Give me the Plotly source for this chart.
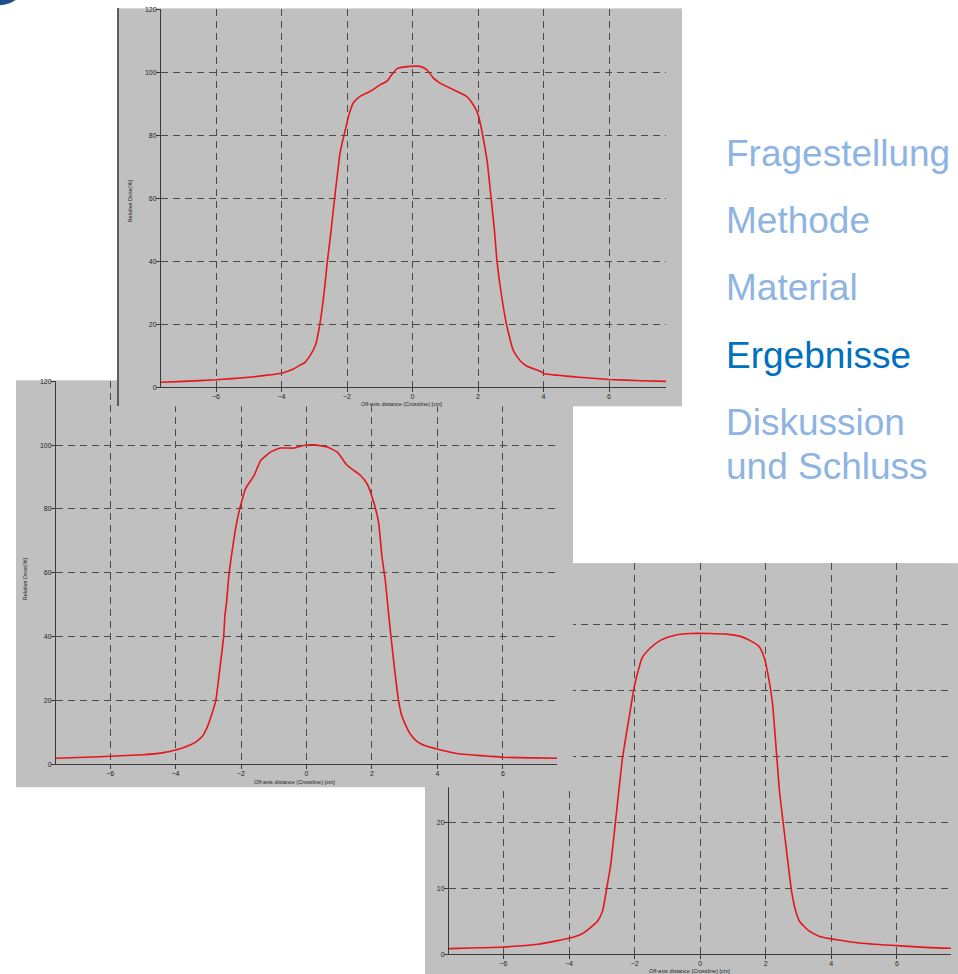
import plotly.graph_objects as go

W, H = 958, 974

# Crossline dose profiles: off-axis position [cm] and relative dose [%]
x_top = [-7.68, -7.0, -6.0, -5.0, -4.5, -4.0, -3.9, -3.62, -3.41, -3.31, -3.11, -2.96,
         -2.83, -2.7, -2.6, -2.5, -2.38, -2.3, -2.22, -2.14, -2.04, -1.94, -1.81,
         -1.6, -1.29, -0.98, -0.78, -0.63, -0.47, -0.08, 0.23, 0.43, 0.64, 0.84,
         1.25, 1.65, 1.85, 2.0, 2.12, 2.23, 2.28, 2.4, 2.5, 2.58, 2.72, 2.87, 3.09,
         3.3, 3.5, 3.9, 4.0, 5.0, 6.0, 7.0, 7.74]
d_top = [1.6, 1.9, 2.4, 3.2, 3.8, 4.5, 4.8, 5.9, 7.2, 7.7, 10.4, 13.5,
         20.0, 30.0, 40.0, 48.5, 60.0, 67.0, 73.9, 78.0, 82.3, 86.6, 90.3,
         92.4, 94.0, 96.1, 97.2, 99.3, 101.2, 101.9, 101.9, 100.9, 98.2, 96.6,
         94.5, 92.4, 89.8, 86.6, 81.3, 74.9, 71.8, 60.0, 50.0, 40.0, 29.0, 20.0, 11.4,
         8.3, 6.7, 5.1, 4.4, 3.3, 2.5, 2.1, 1.9]

x_mid = [-7.65, -7.0, -6.0, -5.0, -4.45, -3.94, -3.54, -3.35, -3.18, -3.05, -2.93,
         -2.77, -2.67, -2.53, -2.49, -2.44, -2.37, -2.26, -2.13, -2.01, -1.86, -1.6,
         -1.4, -1.1, -0.79, -0.59, -0.39, -0.08, 0.22, 0.63, 0.94, 1.24, 1.65,
         1.85, 2.05, 2.2, 2.3, 2.41, 2.51, 2.58, 2.71, 2.81, 2.9, 3.02, 3.18,
         3.37, 3.65, 3.98, 4.7, 5.5, 6.0, 7.0, 7.65]
d_mid = [1.9, 2.1, 2.5, 3.0, 3.5, 4.6, 6.1, 7.2, 8.75, 11.2, 14.5,
         20.0, 28.0, 40.0, 46.8, 50.9, 59.3, 67.6, 75.9, 81.2, 86.4, 90.5,
         95.2, 97.8, 99.1, 99.1, 99.1, 99.9, 100.1, 99.4, 97.8, 93.7, 90.5,
         87.9, 82.2, 75.9, 65.5, 57.2, 46.8, 40.0, 28.0, 20.0, 15.5, 12.4, 9.3,
         7.2, 5.7, 4.8, 3.2, 2.6, 2.2, 2.0, 1.9]

x_low = [-7.66, -7.0, -6.0, -4.95, -3.94, -3.6, -3.43, -3.13, -2.98, -2.85, -2.73,
         -2.58, -2.45, -2.37, -2.22, -2.12, -2.02, -1.92, -1.77, -1.52, -1.2, -0.8,
         -0.3, 0.3, 0.8, 1.2, 1.5, 1.8, 1.95, 2.05, 2.2, 2.3, 2.42, 2.6, 2.79,
         2.9, 3.03, 3.3, 3.64, 4.85, 6.0, 7.0, 7.65]
d_low = [0.85, 0.95, 1.1, 1.5, 2.5, 3.1, 3.7, 5.0, 6.5, 10.0, 13.5,
         20.2, 26.2, 29.7, 34.3, 37.3, 40.3, 42.4, 44.9, 46.4, 47.6, 48.3,
         48.6, 48.6, 48.5, 48.2, 47.6, 46.6, 45.0, 42.9, 38.3, 32.3, 24.7, 17.1, 9.5,
         6.8, 5.0, 3.6, 2.7, 1.7, 1.3, 1.0, 0.9]

x_ticks = [-6, -4, -2, 0, 2, 4, 6]
dose_ticks_wide = [0, 20, 40, 60, 80, 100, 120]
dose_ticks_narrow = [0, 10, 20, 30, 40, 50]

x_title = "Off-axis distance (Crossline) [cm]"
y_title = "Relative Dose[%]"

menu_items = ["Fragestellung", "Methode", "Material", "Ergebnisse",
              "Diskussion", "und Schluss"]
menu_active = "Ergebnisse"

RED = "#e5161c"
GREY = "#c0c0c0"
GRID = "#4a4a4a"
AXIS = "#3a3a3a"
TEXT = "#262626"
MENU_LIGHT = "#8eb4e3"
MENU_DARK = "#0070c0"
SMALL_FONT = "Liberation Sans"


def fx(p):
    return p / W


def fy(p):
    # page rows -> paper fraction, with the slight vertical offset/scale of the page
    return 1 - ((p - 2.6) / 0.993) / H


def clamp(v):
    return min(1.0, max(0.0, v))


def name(kind, n):
    return f"{kind}axis" if n == 1 else f"{kind}axis{n}"


def ref(kind, n):
    return kind if n == 1 else f"{kind}{n}"


fig = go.Figure()
layout = dict(
    width=W, height=H, autosize=False,
    margin=dict(l=0, r=0, t=0, b=0, pad=0),
    paper_bgcolor="white", plot_bgcolor=GREY,
    showlegend=False, hovermode=False,
)


def add_backdrop(n, left, right, top, bottom, border=False):
    """A grey sheet behind one chart window (an empty subplot)."""
    blank = dict(showgrid=False, zeroline=False, showticklabels=False,
                 ticks="", fixedrange=True, range=[0, 1])
    layout[name("x", n)] = dict(domain=[clamp(fx(left)), clamp(fx(right))],
                                anchor=ref("y", n), showline=False, **blank)
    layout[name("y", n)] = dict(domain=[clamp(fy(bottom)), clamp(fy(top))],
                                anchor=ref("x", n), showline=border,
                                linecolor="#5c5c5c", linewidth=2, **blank)
    fig.add_trace(go.Scatter(x=[None], y=[None], mode="lines",
                             xaxis=ref("x", n), yaxis=ref("y", n),
                             hoverinfo="skip", showlegend=False))


def add_profile(n, left, right, top, bottom, xr, yr, yticks, xs, ys):
    common = dict(
        showgrid=True, gridcolor=GRID, griddash="7px,5px", gridwidth=1,
        zeroline=False, showline=True, linecolor=AXIS, linewidth=1,
        ticks="outside", ticklen=4, tickcolor=AXIS, tickwidth=1,
        tickfont=dict(family=SMALL_FONT, size=7, color=TEXT),
        ticklabelstandoff=-2,
        fixedrange=True, tickmode="array",
    )
    layout[name("x", n)] = dict(domain=[fx(left), fx(right)], anchor=ref("y", n),
                                range=xr, tickvals=x_ticks, **common)
    layout[name("y", n)] = dict(domain=[fy(bottom), fy(top)], anchor=ref("x", n),
                                range=yr, tickvals=yticks, **common)
    fig.add_trace(go.Scatter(x=xs, y=ys, mode="lines",
                             xaxis=ref("x", n), yaxis=ref("y", n),
                             line=dict(color=RED, width=1.6, shape="spline",
                                       smoothing=0.5),
                             hoverinfo="skip", showlegend=False))


# Stacking order: lowest window first, each later one covers the earlier ones
add_backdrop(1, 430, 570, 385, 780)
add_backdrop(2, 425, 958, 562, 974)
add_profile(3, 449, 951, 562, 953, [-7.66, 7.65], [0, 59.24],
            dose_ticks_narrow, x_low, d_low)
add_backdrop(4, 16, 573, 379, 786)
add_profile(5, 56, 557, 380, 763, [-7.65, 7.65], [0, 120],
            dose_ticks_wide, x_mid, d_mid)
add_backdrop(6, 119, 682, 7, 405, border=True)
add_profile(7, 161, 666, 8, 386, [-7.68, 7.74], [0, 120],
            dose_ticks_wide, x_top, d_top)

annotations = []


def label(text, px, py, angle=0):
    annotations.append(dict(text=text, x=fx(px), y=fy(py), xref="paper",
                            yref="paper", showarrow=False, textangle=angle,
                            xanchor="center", yanchor="middle",
                            font=dict(family=SMALL_FONT, size=5.5, color=TEXT)))


label(x_title, 401, 403)
label(y_title, 130, 200, -90)
label(x_title, 294, 781)
label(y_title, 25, 578, -90)
label(x_title, 689, 969.5)

# Section navigation on the right
menu_baselines = [165, 232, 299, 367, 434, 478]
for item, base in zip(menu_items, menu_baselines):
    annotations.append(dict(
        text=item, x=fx(724), y=fy(base - 12.8), xref="paper", yref="paper",
        showarrow=False, xanchor="left", yanchor="middle",
        font=dict(family="Liberation Sans", size=37,
                  color=MENU_DARK if item == menu_active else MENU_LIGHT)))

layout["annotations"] = annotations

layout["shapes"] = [
    # lower window runs off the bottom of the page
    dict(type="rect", xref="paper", yref="paper",
         x0=fx(425), x1=1.0, y0=-0.03, y1=fy(940),
         fillcolor=GREY, line=dict(width=0), layer="below"),
    # corner of the logo at the top left
    dict(type="circle", xref="paper", yref="paper",
         x0=fx(-34), x1=fx(30), y0=fy(4), y1=fy(-60),
         fillcolor="#1f4e8c", line=dict(width=0), layer="above"),
]

fig.update_layout(**layout)
fig.write_html("out.html", config={"displayModeBar": False})
